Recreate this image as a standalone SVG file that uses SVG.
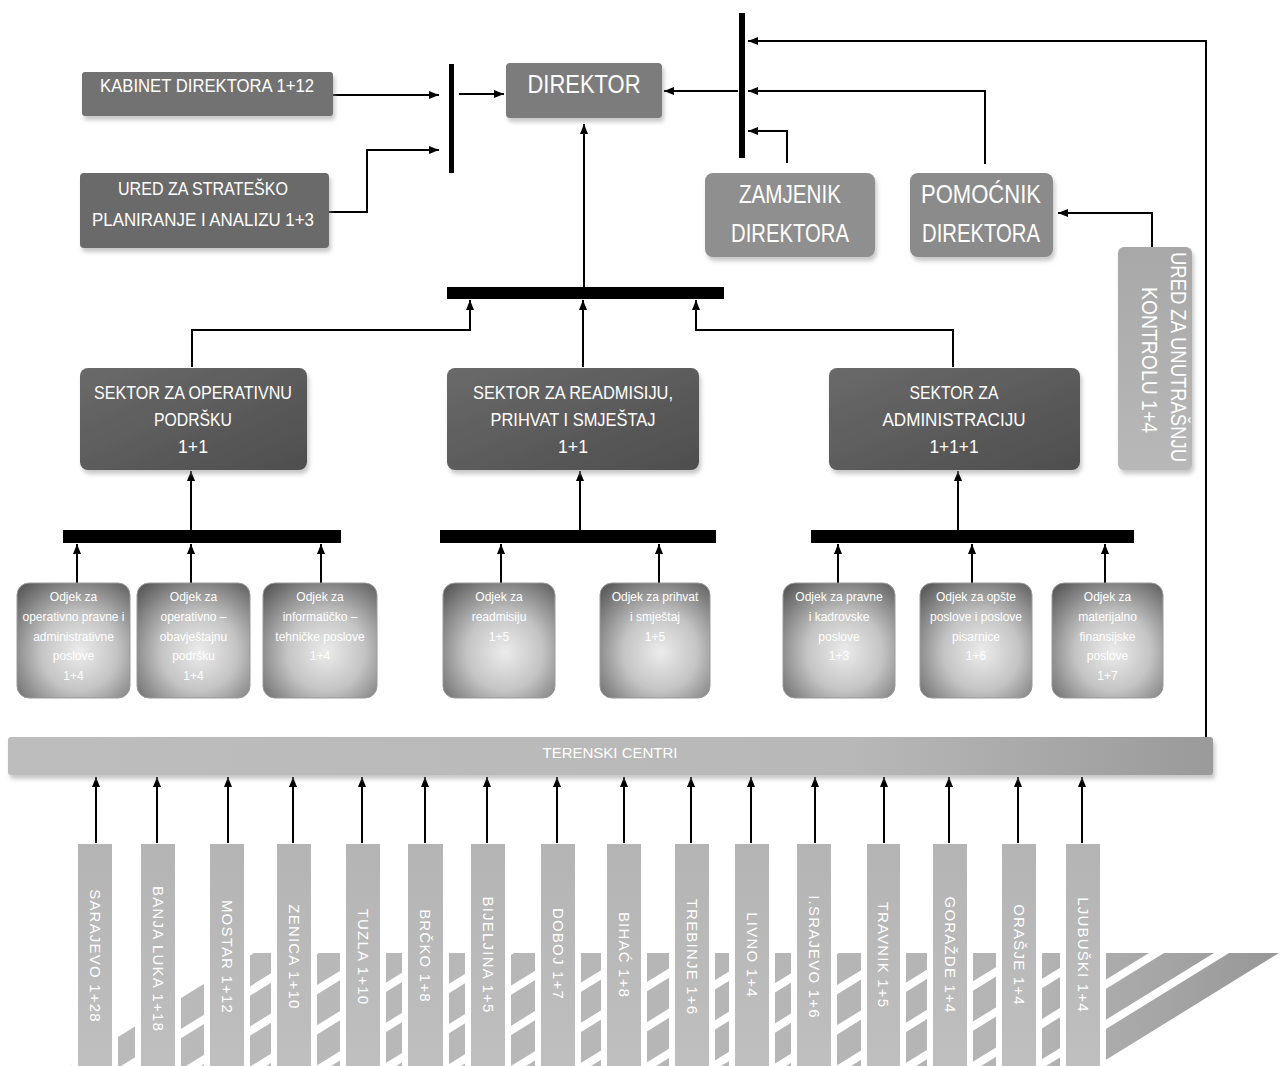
<svg xmlns="http://www.w3.org/2000/svg" width="1281" height="1066" viewBox="0 0 1281 1066">
<defs>
<style>
.t{font-family:"Liberation Sans",Arial,sans-serif;fill:#fff;text-anchor:middle}
.ln{fill:none;stroke:#000;stroke-width:2}
.bar{fill:#000}
.od{fill:url(#odg);stroke:#9a9a9a;stroke-width:1}
.ot{font-size:12px}
.city{fill:url(#cityg)}
.ct{font-size:15px;letter-spacing:1.2px}
</style>
<marker id="ah" viewBox="0 0 10 8" refX="10" refY="4" markerWidth="10" markerHeight="8" markerUnits="userSpaceOnUse" orient="auto"><path d="M0,0 L10,4 L0,8 z" fill="#000"/></marker>
<filter id="sh" x="-10%" y="-10%" width="120%" height="130%"><feDropShadow dx="2" dy="4" stdDeviation="2" flood-color="#9a9a9a" flood-opacity="0.55"/></filter>
<radialGradient id="odg" cx="0.55" cy="0.6" r="0.75"><stop offset="0" stop-color="#ececec"/><stop offset="0.45" stop-color="#c4c4c4"/><stop offset="1" stop-color="#5c5c5c"/></radialGradient>
<linearGradient id="secg" x1="0" y1="0" x2="1" y2="1"><stop offset="0" stop-color="#6a6a6a"/><stop offset="1" stop-color="#4e4e4e"/></linearGradient>
<linearGradient id="terg" x1="0" y1="0" x2="1" y2="0"><stop offset="0" stop-color="#bdbdbd"/><stop offset="0.7" stop-color="#b8b8b8"/><stop offset="1" stop-color="#9a9a9a"/></linearGradient>
<linearGradient id="ung" x1="0" y1="0" x2="0" y2="1"><stop offset="0" stop-color="#a8a8a8"/><stop offset="1" stop-color="#b8b8b8"/></linearGradient>
<linearGradient id="cityg" x1="0" y1="0" x2="0" y2="1"><stop offset="0" stop-color="#b4b4b4"/><stop offset="1" stop-color="#bfbfbf"/></linearGradient>
<linearGradient id="strg" gradientUnits="userSpaceOnUse" x1="60" y1="0" x2="1280" y2="0"><stop offset="0" stop-color="#bababa"/><stop offset="0.8" stop-color="#b4b4b4"/><stop offset="1" stop-color="#979797"/></linearGradient>
</defs>
<rect width="1281" height="1066" fill="#fff"/>

<g id="floor" fill="url(#strg)">
<polygon points="254,953 304,953 121,1066 71,1066"/>
<polygon points="319,953 369,953 186,1066 136,1066"/>
<polygon points="384,953 434,953 251,1066 201,1066"/>
<polygon points="449,953 499,953 316,1066 266,1066"/>
<polygon points="514,953 564,953 381,1066 331,1066"/>
<polygon points="579,953 629,953 446,1066 396,1066"/>
<polygon points="644,953 694,953 511,1066 461,1066"/>
<polygon points="709,953 759,953 576,1066 526,1066"/>
<polygon points="774,953 824,953 641,1066 591,1066"/>
<polygon points="839,953 889,953 706,1066 656,1066"/>
<polygon points="904,953 954,953 771,1066 721,1066"/>
<polygon points="969,953 1019,953 836,1066 786,1066"/>
<polygon points="1034,953 1084,953 901,1066 851,1066"/>
<polygon points="1099,953 1149,953 966,1066 916,1066"/>
<polygon points="1164,953 1214,953 1031,1066 981,1066"/>
<polygon points="1229,953 1279,953 1096,1066 1046,1066"/>
</g>

<g id="connectors">
<line class="ln" x1="333" y1="95" x2="439" y2="95" stroke-width="3" marker-end="url(#ah)"/>
<path class="ln" d="M329,212 H367 V150 H439" marker-end="url(#ah)"/>
<line class="ln" x1="459" y1="94" x2="504" y2="94" marker-end="url(#ah)"/>
<rect class="bar" x="449" y="64" width="5" height="109"/>
<rect class="bar" x="739" y="13" width="6" height="145"/>
<line class="ln" x1="738" y1="91" x2="664" y2="91" marker-end="url(#ah)"/>
<path class="ln" d="M985,164 V91 H748" marker-end="url(#ah)"/>
<path class="ln" d="M787,163 V131 H748" marker-end="url(#ah)"/>
<path class="ln" d="M1206,737 V41 H748" marker-end="url(#ah)"/>
<path class="ln" d="M1152,247 V213 H1058" marker-end="url(#ah)"/>
<rect class="bar" x="447" y="287" width="277" height="12"/>
<line class="ln" x1="584" y1="287" x2="584" y2="124" marker-end="url(#ah)"/>
<path class="ln" d="M192,367 V330 H470 V300" marker-end="url(#ah)"/>
<line class="ln" x1="583" y1="367" x2="583" y2="300" marker-end="url(#ah)"/>
<path class="ln" d="M953,367 V330 H696 V300" marker-end="url(#ah)"/>
<rect class="bar" x="63" y="530" width="278" height="13"/>
<rect class="bar" x="440" y="530" width="276" height="13"/>
<rect class="bar" x="811" y="530" width="323" height="13"/>
<line class="ln" x1="191" y1="530" x2="191" y2="471" marker-end="url(#ah)"/>
<line class="ln" x1="580" y1="530" x2="580" y2="471" marker-end="url(#ah)"/>
<line class="ln" x1="958" y1="530" x2="958" y2="471" marker-end="url(#ah)"/>
<line class="ln" x1="77" y1="583" x2="77" y2="544" marker-end="url(#ah)"/>
<line class="ln" x1="191" y1="583" x2="191" y2="544" marker-end="url(#ah)"/>
<line class="ln" x1="321" y1="583" x2="321" y2="544" marker-end="url(#ah)"/>
<line class="ln" x1="501" y1="583" x2="501" y2="544" marker-end="url(#ah)"/>
<line class="ln" x1="659" y1="583" x2="659" y2="544" marker-end="url(#ah)"/>
<line class="ln" x1="838" y1="583" x2="838" y2="544" marker-end="url(#ah)"/>
<line class="ln" x1="972" y1="583" x2="972" y2="544" marker-end="url(#ah)"/>
<line class="ln" x1="1105" y1="583" x2="1105" y2="544" marker-end="url(#ah)"/>
<line class="ln" x1="96" y1="843" x2="96" y2="777" marker-end="url(#ah)"/>
<line class="ln" x1="157" y1="843" x2="157" y2="777" marker-end="url(#ah)"/>
<line class="ln" x1="228" y1="843" x2="228" y2="777" marker-end="url(#ah)"/>
<line class="ln" x1="293" y1="843" x2="293" y2="777" marker-end="url(#ah)"/>
<line class="ln" x1="362" y1="843" x2="362" y2="777" marker-end="url(#ah)"/>
<line class="ln" x1="425" y1="843" x2="425" y2="777" marker-end="url(#ah)"/>
<line class="ln" x1="487" y1="843" x2="487" y2="777" marker-end="url(#ah)"/>
<line class="ln" x1="557" y1="843" x2="557" y2="777" marker-end="url(#ah)"/>
<line class="ln" x1="624" y1="843" x2="624" y2="777" marker-end="url(#ah)"/>
<line class="ln" x1="691" y1="843" x2="691" y2="777" marker-end="url(#ah)"/>
<line class="ln" x1="751" y1="843" x2="751" y2="777" marker-end="url(#ah)"/>
<line class="ln" x1="815" y1="843" x2="815" y2="777" marker-end="url(#ah)"/>
<line class="ln" x1="884" y1="843" x2="884" y2="777" marker-end="url(#ah)"/>
<line class="ln" x1="949" y1="843" x2="949" y2="777" marker-end="url(#ah)"/>
<line class="ln" x1="1018" y1="843" x2="1018" y2="777" marker-end="url(#ah)"/>
<line class="ln" x1="1082" y1="843" x2="1082" y2="777" marker-end="url(#ah)"/>
</g>

<g id="kabinet"><rect x="82" y="72" width="251" height="44" rx="3" fill="#727272" filter="url(#sh)"/><text class="t" x="207" y="92" font-size="19" textLength="214" lengthAdjust="spacingAndGlyphs">KABINET DIREKTORA 1+12</text></g>
<g id="ured-strat"><rect x="80" y="173" width="249" height="75" rx="4" fill="#6b6b6b" filter="url(#sh)"/><text class="t" x="203" y="195" font-size="18" textLength="170" lengthAdjust="spacingAndGlyphs">URED ZA STRATEŠKO</text><text class="t" x="203" y="226" font-size="18" textLength="222" lengthAdjust="spacingAndGlyphs">PLANIRANJE I ANALIZU 1+3</text></g>
<g id="direktor"><rect x="506" y="63" width="156" height="55" rx="4" fill="#7b7b7b" filter="url(#sh)"/><text class="t" x="584" y="93" font-size="26" textLength="113" lengthAdjust="spacingAndGlyphs">DIREKTOR</text></g>
<g id="zamjenik"><rect x="705" y="173" width="170" height="84" rx="8" fill="#8f8f8f" filter="url(#sh)"/><text class="t" x="790" y="203" font-size="25" textLength="102" lengthAdjust="spacingAndGlyphs">ZAMJENIK</text><text class="t" x="790" y="242" font-size="25" textLength="118" lengthAdjust="spacingAndGlyphs">DIREKTORA</text></g>
<g id="pomocnik"><rect x="910" y="173" width="143" height="84" rx="8" fill="#8b8b8b" filter="url(#sh)"/><text class="t" x="981" y="203" font-size="25" textLength="120" lengthAdjust="spacingAndGlyphs">POMOĆNIK</text><text class="t" x="981" y="242" font-size="25" textLength="118" lengthAdjust="spacingAndGlyphs">DIREKTORA</text></g>
<g id="ured-unutrasnja"><rect x="1118" y="247" width="74" height="223" rx="6" fill="url(#ung)" filter="url(#sh)"/><text class="t" font-size="22" transform="translate(1171,357) rotate(90)" textLength="210" lengthAdjust="spacingAndGlyphs">URED ZA UNUTRAŠNJU</text><text class="t" font-size="22" transform="translate(1142,360) rotate(90)" textLength="146" lengthAdjust="spacingAndGlyphs">KONTROLU 1+4</text></g>

<g id="sektor-op"><rect x="80" y="368" width="227" height="102" rx="8" fill="url(#secg)" filter="url(#sh)"/><text class="t" x="193" y="399" font-size="18" textLength="198" lengthAdjust="spacingAndGlyphs">SEKTOR ZA OPERATIVNU</text><text class="t" x="193" y="426" font-size="18" textLength="78" lengthAdjust="spacingAndGlyphs">PODRŠKU</text><text class="t" x="193" y="453" font-size="18" textLength="30" lengthAdjust="spacingAndGlyphs">1+1</text></g>
<g id="sektor-read"><rect x="447" y="368" width="252" height="102" rx="8" fill="url(#secg)" filter="url(#sh)"/><text class="t" x="573" y="399" font-size="18" textLength="200" lengthAdjust="spacingAndGlyphs">SEKTOR ZA READMISIJU,</text><text class="t" x="573" y="426" font-size="18" textLength="165" lengthAdjust="spacingAndGlyphs">PRIHVAT I SMJEŠTAJ</text><text class="t" x="573" y="453" font-size="18" textLength="30" lengthAdjust="spacingAndGlyphs">1+1</text></g>
<g id="sektor-adm"><rect x="829" y="368" width="251" height="102" rx="8" fill="url(#secg)" filter="url(#sh)"/><text class="t" x="954" y="399" font-size="18" textLength="89" lengthAdjust="spacingAndGlyphs">SEKTOR ZA</text><text class="t" x="954" y="426" font-size="18" textLength="143" lengthAdjust="spacingAndGlyphs">ADMINISTRACIJU</text><text class="t" x="954" y="453" font-size="18" textLength="49" lengthAdjust="spacingAndGlyphs">1+1+1</text></g>

<g id="odsjek1"><rect class="od" x="17" y="583" width="113" height="115" rx="12"/><text class="t ot" x="73.5" y="601">Odjek za</text><text class="t ot" x="73.5" y="621">operativno pravne i</text><text class="t ot" x="73.5" y="641">administrativne</text><text class="t ot" x="73.5" y="660">poslove</text><text class="t ot" x="73.5" y="680">1+4</text></g>
<g id="odsjek2"><rect class="od" x="137" y="583" width="113" height="115" rx="12"/><text class="t ot" x="193.5" y="601">Odjek za</text><text class="t ot" x="193.5" y="621">operativno –</text><text class="t ot" x="193.5" y="641">obavještajnu</text><text class="t ot" x="193.5" y="660">podršku</text><text class="t ot" x="193.5" y="680">1+4</text></g>
<g id="odsjek3"><rect class="od" x="263" y="583" width="114" height="115" rx="12"/><text class="t ot" x="320" y="601">Odjek za</text><text class="t ot" x="320" y="621">informatičko –</text><text class="t ot" x="320" y="641">tehničke poslove</text><text class="t ot" x="320" y="660">1+4</text></g>
<g id="odsjek4"><rect class="od" x="443" y="583" width="112" height="115" rx="12"/><text class="t ot" x="499" y="601">Odjek za</text><text class="t ot" x="499" y="621">readmisiju</text><text class="t ot" x="499" y="641">1+5</text></g>
<g id="odsjek5"><rect class="od" x="600" y="583" width="110" height="115" rx="12"/><text class="t ot" x="655" y="601">Odjek za prihvat</text><text class="t ot" x="655" y="621">i smještaj</text><text class="t ot" x="655" y="641">1+5</text></g>
<g id="odsjek6"><rect class="od" x="783" y="583" width="112" height="115" rx="12"/><text class="t ot" x="839" y="601">Odjek za pravne</text><text class="t ot" x="839" y="621">i kadrovske</text><text class="t ot" x="839" y="641">poslove</text><text class="t ot" x="839" y="660">1+3</text></g>
<g id="odsjek7"><rect class="od" x="920" y="583" width="112" height="115" rx="12"/><text class="t ot" x="976" y="601">Odjek za opšte</text><text class="t ot" x="976" y="621">poslove i poslove</text><text class="t ot" x="976" y="641">pisarnice</text><text class="t ot" x="976" y="660">1+6</text></g>
<g id="odsjek8"><rect class="od" x="1052" y="583" width="111" height="115" rx="12"/><text class="t ot" x="1107.5" y="601">Odjek za</text><text class="t ot" x="1107.5" y="621">materijalno</text><text class="t ot" x="1107.5" y="641">finansijske</text><text class="t ot" x="1107.5" y="660">poslove</text><text class="t ot" x="1107.5" y="680">1+7</text></g>

<g id="terenski"><rect x="8" y="737" width="1205" height="38" rx="3" fill="url(#terg)" filter="url(#sh)"/><text class="t" x="610" y="758" font-size="15" textLength="135" lengthAdjust="spacingAndGlyphs">TERENSKI CENTRI</text></g>

<g id="cities">
<g id="c-sarajevo"><rect x="72" y="844" width="46" height="222" fill="#fff"/><rect class="city" x="78" y="844" width="34" height="222"/><text class="t ct" transform="translate(89.5,956) rotate(90)">SARAJEVO 1+28</text></g>
<g id="c-banjaluka"><rect x="135" y="844" width="46" height="222" fill="#fff"/><rect class="city" x="141" y="844" width="34" height="222"/><text class="t ct" transform="translate(152.5,959) rotate(90)">BANJA LUKA 1+18</text></g>
<g id="c-mostar"><rect x="204" y="844" width="46" height="222" fill="#fff"/><rect class="city" x="210" y="844" width="34" height="222"/><text class="t ct" transform="translate(221.5,957) rotate(90)">MOSTAR 1+12</text></g>
<g id="c-zenica"><rect x="271" y="844" width="46" height="222" fill="#fff"/><rect class="city" x="277" y="844" width="34" height="222"/><text class="t ct" transform="translate(288.5,957) rotate(90)">ZENICA 1+10</text></g>
<g id="c-tuzla"><rect x="340" y="844" width="46" height="222" fill="#fff"/><rect class="city" x="346" y="844" width="34" height="222"/><text class="t ct" transform="translate(357.5,957) rotate(90)">TUZLA 1+10</text></g>
<g id="c-brcko"><rect x="402" y="844" width="47" height="222" fill="#fff"/><rect class="city" x="408" y="844" width="35" height="222"/><text class="t ct" transform="translate(420,956) rotate(90)">BRČKO 1+8</text></g>
<g id="c-bijeljina"><rect x="465" y="844" width="46" height="222" fill="#fff"/><rect class="city" x="471" y="844" width="34" height="222"/><text class="t ct" transform="translate(482.5,955) rotate(90)">BIJELJINA 1+5</text></g>
<g id="c-doboj"><rect x="535" y="844" width="46" height="222" fill="#fff"/><rect class="city" x="541" y="844" width="34" height="222"/><text class="t ct" transform="translate(552.5,954) rotate(90)">DOBOJ 1+7</text></g>
<g id="c-bihac"><rect x="601" y="844" width="46" height="222" fill="#fff"/><rect class="city" x="607" y="844" width="34" height="222"/><text class="t ct" transform="translate(618.5,955) rotate(90)">BIHAĆ 1+8</text></g>
<g id="c-trebinje"><rect x="669" y="844" width="46" height="222" fill="#fff"/><rect class="city" x="675" y="844" width="34" height="222"/><text class="t ct" transform="translate(686.5,957) rotate(90)">TREBINJE 1+6</text></g>
<g id="c-livno"><rect x="729" y="844" width="46" height="222" fill="#fff"/><rect class="city" x="735" y="844" width="34" height="222"/><text class="t ct" transform="translate(746.5,955) rotate(90)">LIVNO 1+4</text></g>
<g id="c-isarajevo"><rect x="791" y="844" width="46" height="222" fill="#fff"/><rect class="city" x="797" y="844" width="34" height="222"/><text class="t ct" transform="translate(808.5,957) rotate(90)">I.SRAJEVO 1+6</text></g>
<g id="c-travnik"><rect x="861" y="844" width="45" height="222" fill="#fff"/><rect class="city" x="867" y="844" width="33" height="222"/><text class="t ct" transform="translate(878,955) rotate(90)">TRAVNIK 1+5</text></g>
<g id="c-gorazde"><rect x="927" y="844" width="46" height="222" fill="#fff"/><rect class="city" x="933" y="844" width="34" height="222"/><text class="t ct" transform="translate(944.5,955) rotate(90)">GORAŽDE 1+4</text></g>
<g id="c-orasje"><rect x="996" y="844" width="46" height="222" fill="#fff"/><rect class="city" x="1002" y="844" width="34" height="222"/><text class="t ct" transform="translate(1013.5,955) rotate(90)">ORAŠJE 1+4</text></g>
<g id="c-ljubuski"><rect x="1060" y="844" width="46" height="222" fill="#fff"/><rect class="city" x="1066" y="844" width="34" height="222"/><text class="t ct" transform="translate(1077.5,955) rotate(90)">LJUBUŠKI 1+4</text></g>
</g>
</svg>
